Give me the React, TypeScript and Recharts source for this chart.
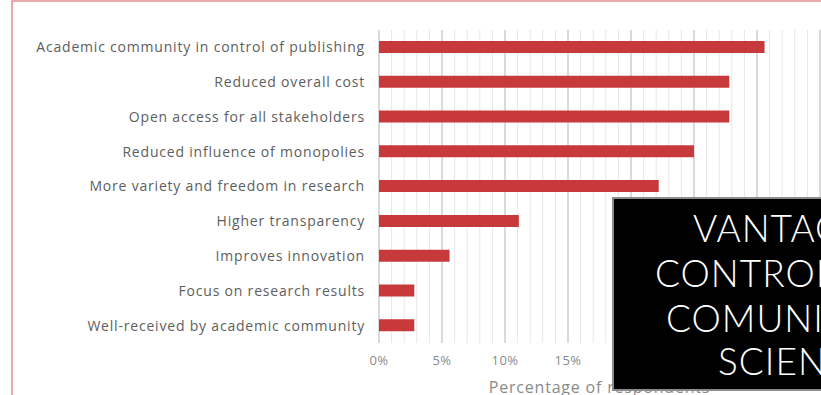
import React from 'react';
import { BarChart, Bar, XAxis, YAxis, CartesianGrid } from 'recharts';

const categories = [
  'Academic community in control of publishing',
  'Reduced overall cost',
  'Open access for all stakeholders',
  'Reduced influence of monopolies',
  'More variety and freedom in research',
  'Higher transparency',
  'Improves innovation',
  'Focus on research results',
  'Well-received by academic community',
];
const percentages = [30.6, 27.8, 27.8, 25.0, 22.2, 11.1, 5.6, 2.8, 2.8];
const majorTicks = [0, 5, 10, 15, 20, 25, 30, 35];
const minorTicks = [
  0, 1, 2, 3, 4, 5, 6, 7, 8, 9, 10, 11, 12, 13, 14, 15, 16, 17,
  18, 19, 20, 21, 22, 23, 24, 25, 26, 27, 28, 29, 30, 31, 32, 33, 34, 35,
];
const overlayLines = ['VANTAGENS', 'CONTROLE', 'COMUNIDADE', 'SCIENTIFIC'];

const data = categories.map((name, i) => ({ name, value: percentages[i] }));

const FONT = '"Open Sans", "DejaVu Sans", sans-serif';

export default function App() {
  return (
    <div
      style={{
        position: 'fixed',
        left: 0,
        top: 0,
        width: 821,
        height: 395,
        overflow: 'hidden',
        background: '#ffffff',
        fontFamily: FONT,
      }}
    >
      <BarChart
        width={821}
        height={395}
        data={data}
        layout="vertical"
        margin={{ top: 30, right: 1, bottom: 0, left: 0 }}
      >
        <CartesianGrid
          horizontal={false}
          vertical
          verticalValues={minorTicks}
          syncWithTicks={false}
          stroke="#e6e6e6"
          strokeWidth={1}
        />
        <CartesianGrid
          horizontal={false}
          vertical
          verticalValues={majorTicks}
          syncWithTicks={false}
          stroke="#d2d2d2"
          strokeWidth={1.5}
        />
        <XAxis
          type="number"
          domain={[0, 35]}
          ticks={majorTicks}
          tickFormatter={(v: number) => `${v}%`}
          axisLine={false}
          tickLine={false}
          tickSize={0}
          tickMargin={13}
          height={52}
          interval={0}
          tick={{ fill: '#8a8a8a', fontSize: 13, fontFamily: FONT, letterSpacing: 0.4 }}
          label={{
            value: 'Percentage of respondents',
            position: 'insideBottom',
            offset: 2,
            fill: '#8a8a8a',
            fontSize: 16,
            fontFamily: FONT,
            letterSpacing: 0.8,
          }}
        />
        <YAxis
          type="category"
          dataKey="name"
          width={379}
          axisLine={false}
          tickLine={false}
          tickSize={0}
          tickMargin={14}
          interval={0}
          tick={{ fill: '#5e5e5e', fontSize: 14, fontFamily: FONT, letterSpacing: 0.8 }}
        />
        <Bar dataKey="value" fill="#c8393b" barSize={12} isAnimationActive={false} />
      </BarChart>

      {/* pink slide frame */}
      <div
        style={{
          position: 'absolute',
          left: 11,
          top: 0,
          width: 810,
          height: 2,
          background: '#eaa9aa',
        }}
      />
      <div
        style={{
          position: 'absolute',
          left: 11,
          top: 0,
          width: 2,
          height: 395,
          background: '#eaa9aa',
        }}
      />

      {/* black overlay box */}
      <svg
        width={821}
        height={395}
        style={{ position: 'absolute', left: 0, top: 0 }}
      >
        <rect x={613} y={198} width={230} height={192} fill="#000000" stroke="#8c8c8c" strokeWidth={2} />
        {overlayLines.map((t, i) => (
          <text
            key={t}
            x={[693, 655, 666, 718][i]}
            y={[242, 287, 332, 375][i]}
            fill="#ffffff"
            fontSize={37}
            fontWeight={300}
            letterSpacing={1}
            fontFamily='"Lato", "Open Sans", sans-serif'
          >
            {t}
          </text>
        ))}
      </svg>
    </div>
  );
}
